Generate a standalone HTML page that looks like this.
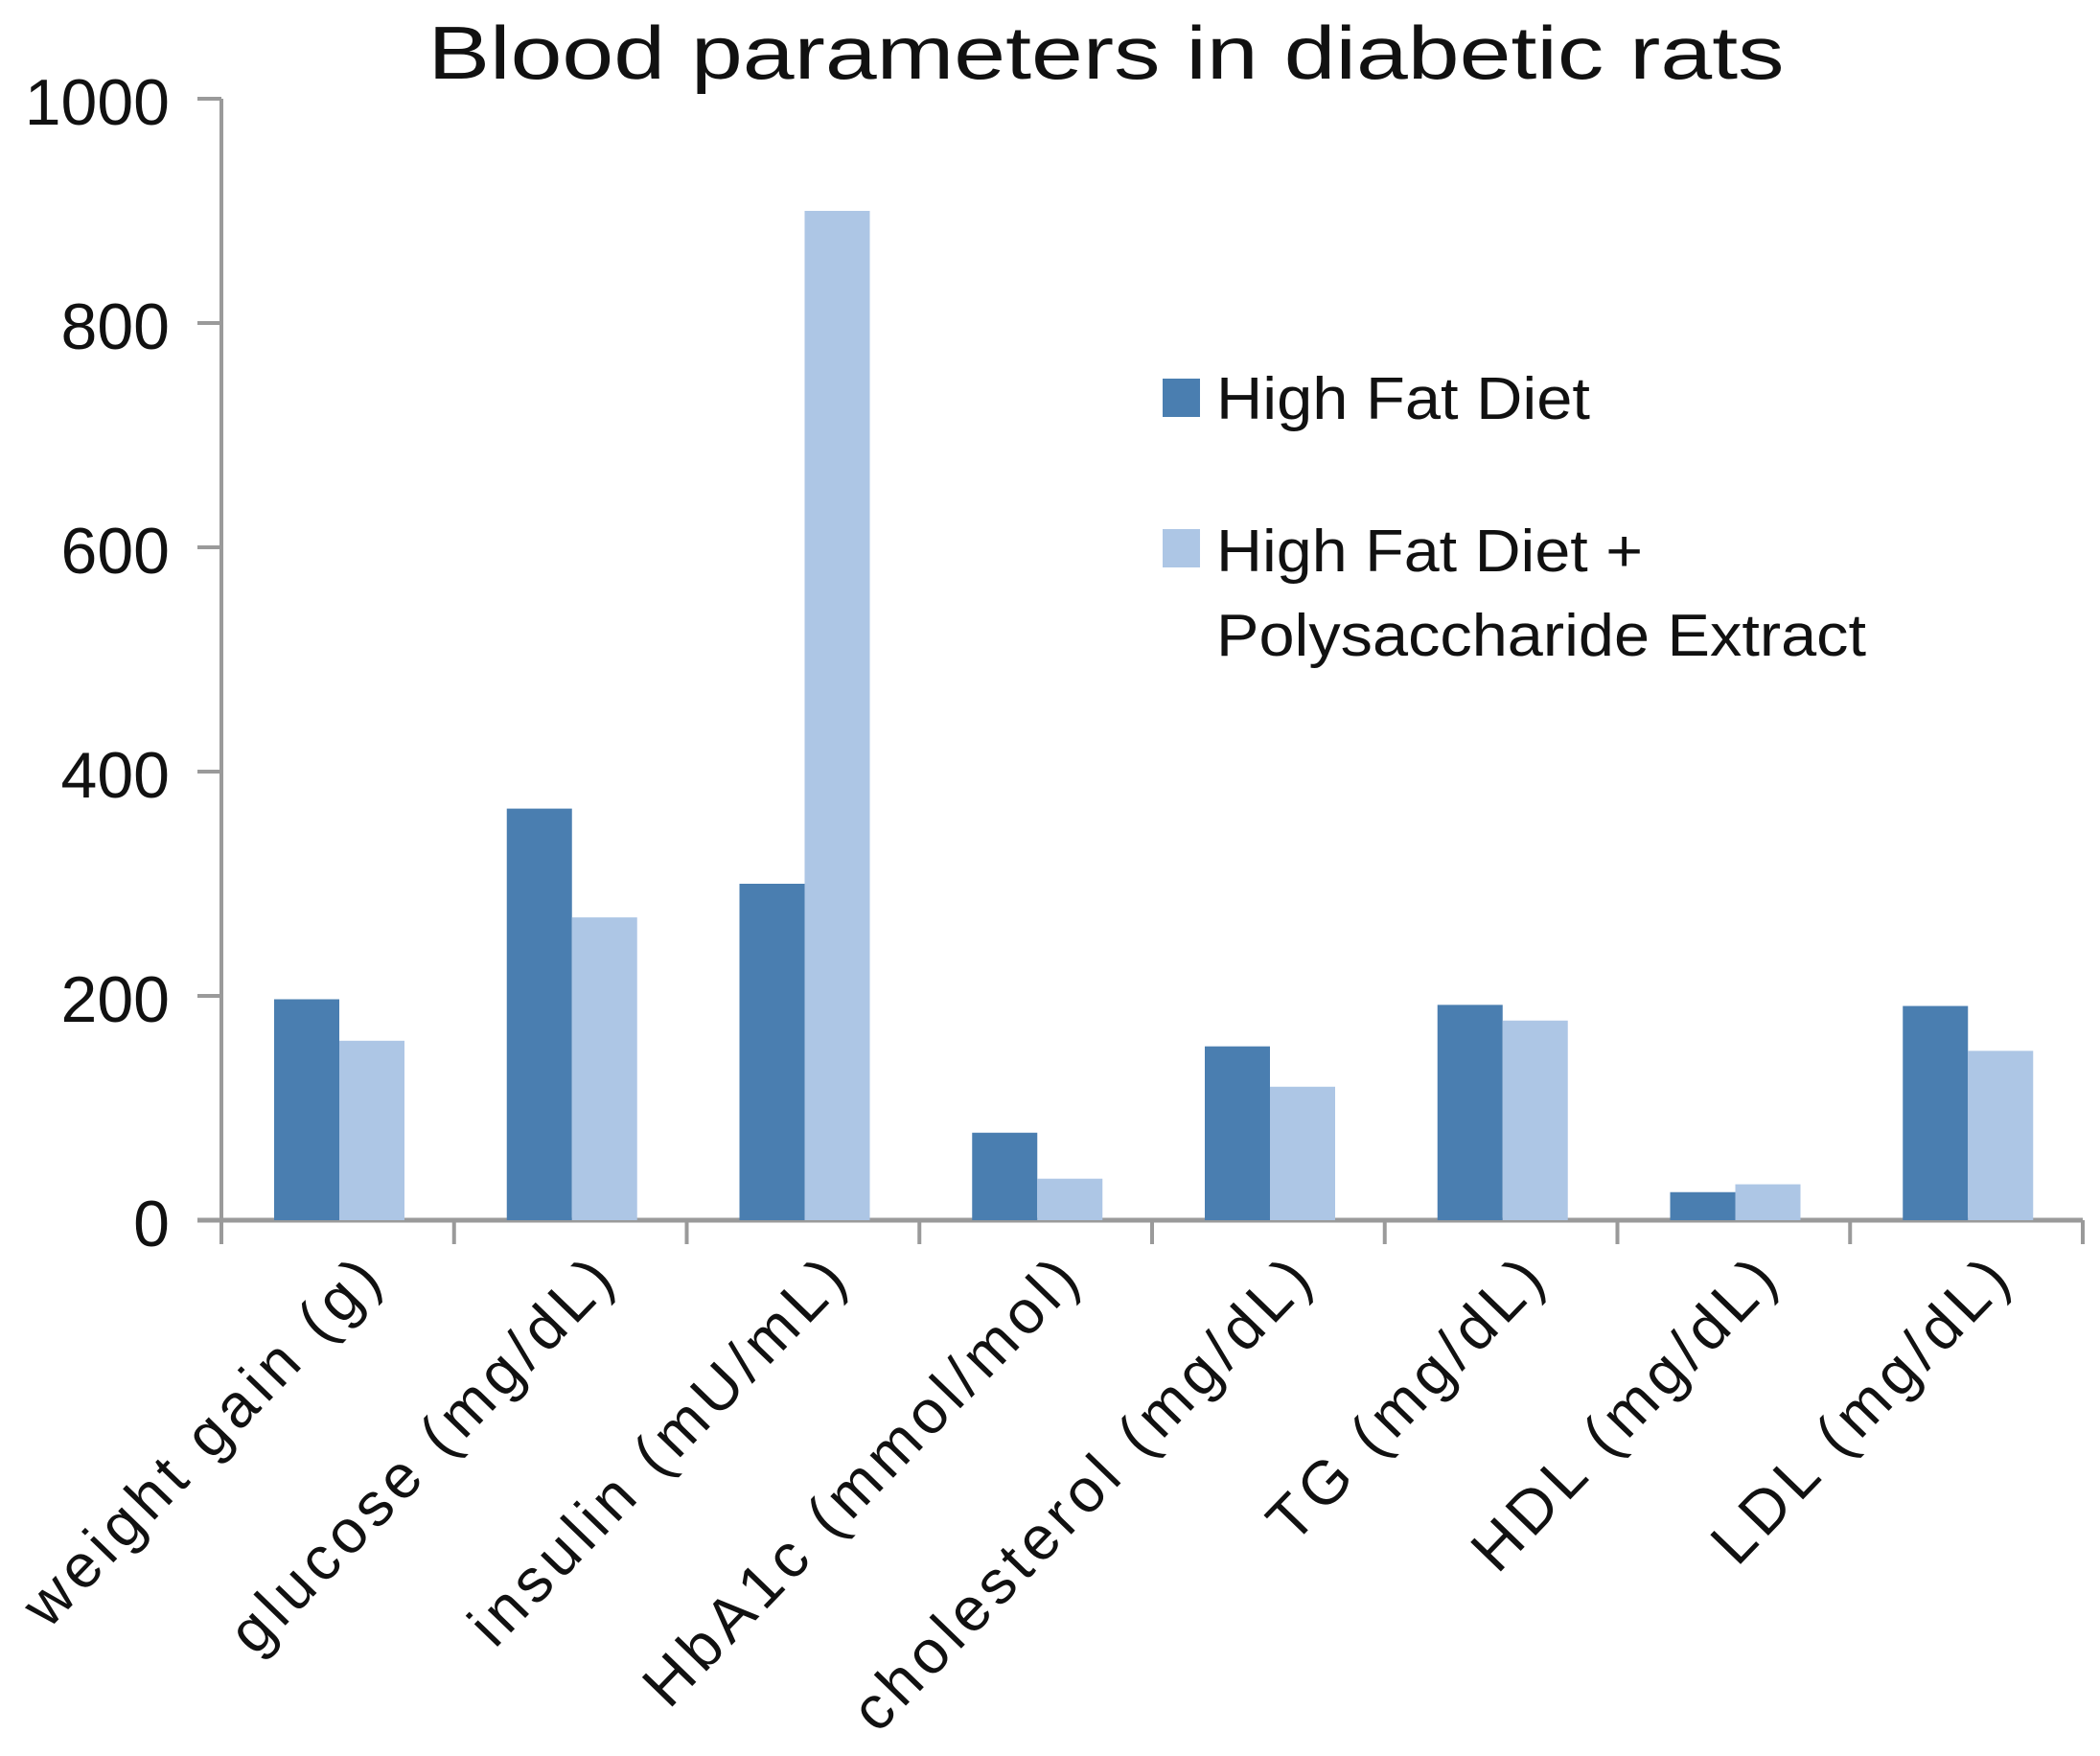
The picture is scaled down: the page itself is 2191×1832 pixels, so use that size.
<!DOCTYPE html>
<html><head><meta charset="utf-8"><style>html,body{margin:0;padding:0;background:#fff}svg{display:block}</style></head>
<body>
<svg id="chart" width="2191" height="1832" viewBox="0 0 2191 1832" xmlns="http://www.w3.org/2000/svg" font-family="'Liberation Sans', sans-serif">
<text x="1154" y="82" font-size="78" text-anchor="middle" textLength="1415" lengthAdjust="spacingAndGlyphs" fill="#111">Blood parameters in diabetic rats</text>
<g id="axes"></g><g id="bars"></g><g id="xlabels"></g>
<g>
<rect x="1213" y="395" width="39" height="40" fill="#4a7eb0"/>
<text x="1269" y="437" font-size="62" textLength="390" lengthAdjust="spacingAndGlyphs" fill="#111">High Fat Diet</text>
<rect x="1213" y="552" width="39" height="40" fill="#adc6e5"/>
<text x="1269" y="596" font-size="62" textLength="445" lengthAdjust="spacingAndGlyphs" fill="#111">High Fat Diet +</text>
<text x="1269" y="684" font-size="62" textLength="678" lengthAdjust="spacingAndGlyphs" fill="#111">Polysaccharide Extract</text>
</g>
</svg>
<script>
const categories = ["weight gain (g)","glucose (mg/dL)","insulin (mU/mL)","HbA1c (mmol/mol)","cholesterol (mg/dL)","TG (mg/dL)","HDL (mg/dL)","LDL (mg/dL)"];
const highFat = [197,367,300,78,155,192,25,191];
const highFatExtract = [160,270,900,37,119,178,32,151];
const yTicks = [0,200,400,600,800,1000];

const NS="http://www.w3.org/2000/svg";
const X0=231, X1=2173, Y0=1273, Y1=103, YMAX=1000;
const bw=(X1-X0)/categories.length;
function y(v){return Y0-(v/YMAX)*(Y0-Y1);}
function cx(i){return X0+i*bw;}
function mk(tag,attrs,parent){const e=document.createElementNS(NS,tag);for(const k in attrs)e.setAttribute(k,attrs[k]);parent.appendChild(e);return e;}
const axes=document.getElementById('axes'),bars=document.getElementById('bars'),xl=document.getElementById('xlabels');
let a=mk('line',{x1:X0,y1:Y1,x2:X0,y2:Y0+3,stroke:'#9a9a9a','stroke-width':4},axes);


yTicks.forEach(t=>{
  let l=mk('line',{x1:X0-25,y1:y(t),x2:X0,y2:y(t),stroke:'#9a9a9a','stroke-width':4},axes);
  
  
  let tx=mk('text',{x:177,y:y(t)+27,'font-size':68,'text-anchor':'end',fill:'#111'},axes);
  tx.textContent=t;
  
  
});
categories.forEach((c,i)=>{
  const x=cx(i);
  let b1=mk('rect',{x:x+55,y:y(highFat[i]),width:68,height:Y0-y(highFat[i]),fill:'#4a7eb0'},bars);
  
  
  let b2=mk('rect',{x:x+123,y:y(highFatExtract[i]),width:68,height:Y0-y(highFatExtract[i]),fill:'#adc6e5'},bars);
  
  
  const mid=x+bw/2, ax=mid+52, ay=1334;
  let lb=mk('text',{x:ax,y:ay,'font-size':64,'letter-spacing':6,'text-anchor':'end',fill:'#111',transform:`rotate(-46 ${ax} ${ay})`},xl);
  lb.textContent=c;
  
  
});
for(let i=0;i<=categories.length;i++){
  let t=mk('line',{x1:cx(i),y1:Y0,x2:cx(i),y2:Y0+25,stroke:'#9a9a9a','stroke-width':4},axes);
  
  
}
let xa=mk('line',{x1:X0-25,y1:Y0,x2:X1,y2:Y0,stroke:'#9a9a9a','stroke-width':5},axes);


</script>
</body></html>
